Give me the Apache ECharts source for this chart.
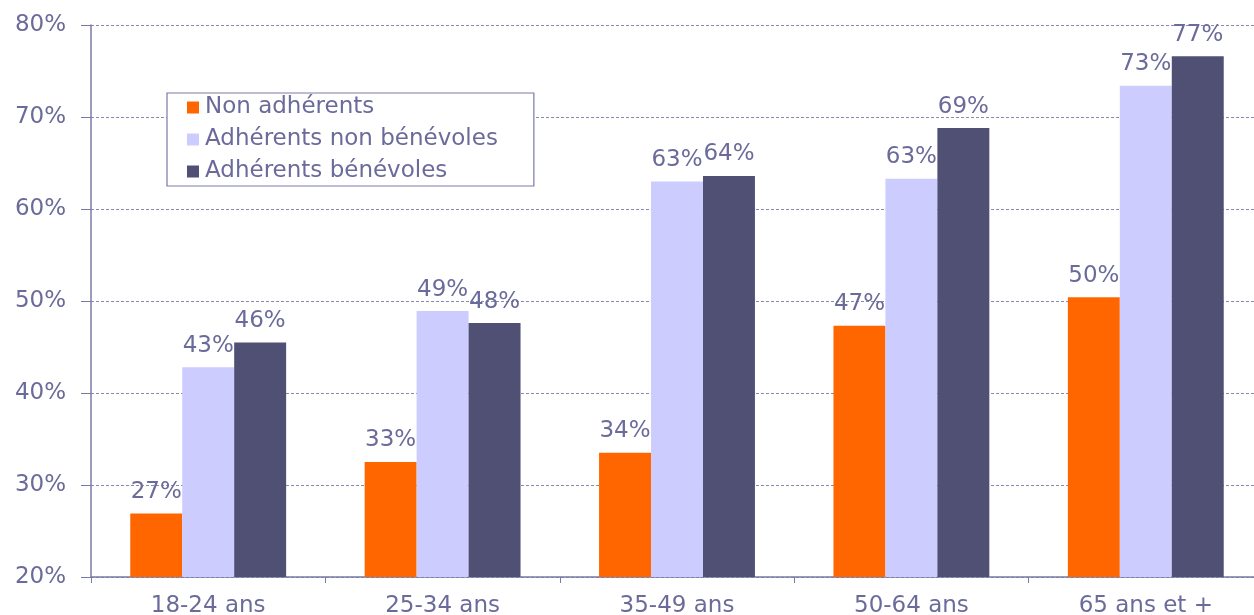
<!DOCTYPE html>
<html>
<head>
<meta charset="utf-8">
<script src="https://cdn.jsdelivr.net/npm/echarts@6/dist/echarts.min.js"></script>
<style>
html,body{margin:0;padding:0;background:#fff;}
#c{width:1254px;height:615px;}
</style>
</head>
<body>
<div id="c"></div>
<script>
var categories = ['18-24 ans', '25-34 ans', '35-49 ans', '50-64 ans', '65 ans et +'];
var seriesNames = ['Non adhérents', 'Adhérents non bénévoles', 'Adhérents bénévoles'];
var nonAdherents = [26.9, 32.5, 33.5, 47.3, 50.4];
var adherentsNonBenevoles = [42.8, 48.9, 63.0, 63.3, 73.4];
var adherentsBenevoles = [45.5, 47.6, 63.6, 68.8, 76.6];
var yTicks = {min: 20, max: 80, interval: 10};

var textColor = '#6B6B9B';
var colors = ['#FF6600', '#CCCCFF', '#505075'];
var font = 'DejaVu Sans, Verdana, sans-serif';

function mk(name, data, color) {
  return {
    name: name,
    type: 'bar',
    data: data,
    barGap: '0%',
    barCategoryGap: '33.5%',
    itemStyle: {color: color},
    label: {
      show: true,
      position: 'top',
      distance: 10,
      color: textColor,
      fontFamily: font,
      fontSize: 23,
      formatter: function (p) { return Math.round(p.value) + '%'; }
    }
  };
}

var chart = echarts.init(document.getElementById('c'));
chart.setOption({
  animation: false,
  color: colors,
  grid: {left: 91, width: 1172, top: 25, bottom: 38, containLabel: false, outerBoundsMode: 'none'},
  legend: {
    orient: 'vertical',
    left: 167,
    top: 93,
    padding: [3, 36, 3, 20],
    itemGap: 9,
    itemWidth: 12,
    itemHeight: 12,
    borderColor: '#7A7AA8',
    borderWidth: 1.2,
    borderRadius: 0,
    backgroundColor: '#fff',
    icon: 'rect',
    textStyle: {color: textColor, fontFamily: font, fontSize: 23, padding: [0, 0, 0, 1]},
    data: seriesNames
  },
  xAxis: {
    type: 'category',
    data: categories,
    axisLine: {lineStyle: {color: '#7A7AA8', width: 1.5}},
    axisTick: {show: true, length: 6, alignWithLabel: false, lineStyle: {color: '#7A7AA8'}},
    axisLabel: {color: textColor, fontFamily: font, fontSize: 23, margin: 18}
  },
  yAxis: {
    type: 'value',
    min: yTicks.min,
    max: yTicks.max,
    interval: yTicks.interval,
    axisLine: {show: true, lineStyle: {color: '#7A7AA8', width: 1.5}},
    axisTick: {show: true, length: 10, lineStyle: {color: '#7A7AA8'}},
    axisLabel: {color: textColor, fontFamily: font, fontSize: 23, margin: 25, formatter: '{value}%'},
    splitLine: {show: true, lineStyle: {color: '#6B6B9B', type: [3, 2], width: 0.8}}
  },
  series: [
    mk(seriesNames[0], nonAdherents, colors[0]),
    mk(seriesNames[1], adherentsNonBenevoles, colors[1]),
    mk(seriesNames[2], adherentsBenevoles, colors[2])
  ]
});
</script>
</body>
</html>
